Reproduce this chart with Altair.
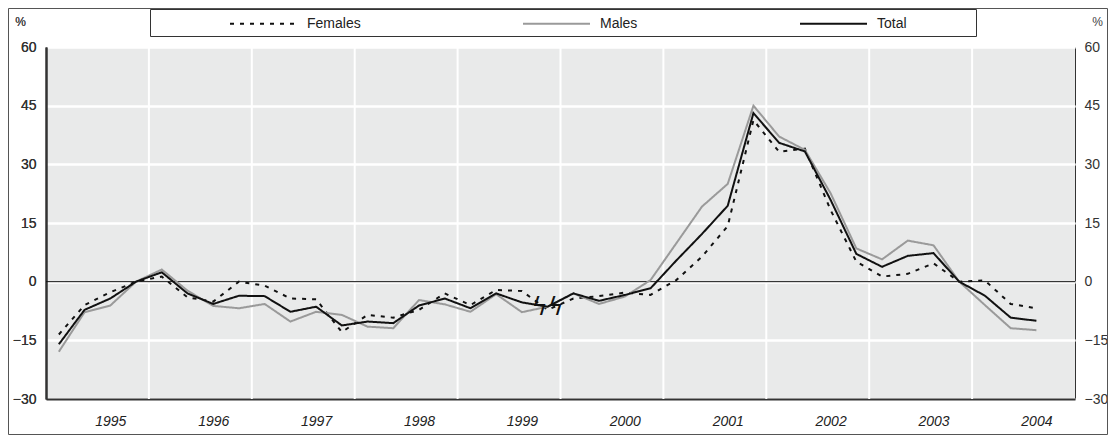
import altair as alt
import pandas as pd

# ---- data (quarterly, % change) ----
quarters = [f"{y}Q{q}" for y in range(1995, 2005) for q in range(1, 5)][:39]
total = [-16.0, -7.2, -4.3, 0.0, 2.4, -3.0, -5.7, -3.6, -3.7, -7.7, -6.4, -11.2,
         -10.2, -10.6, -6.1, -4.3, -6.8, -3.0, -5.3, -6.4, -3.0, -4.9, -3.4, -1.7,
         5.4, 12.2, 19.4, 43.1, 35.5, 33.3, 20.9, 7.1, 3.8, 6.6, 7.3, 0.0,
         -3.6, -9.2, -10.0]
males = [-17.9, -7.8, -6.1, 0.0, 3.1, -2.3, -6.2, -6.8, -5.7, -10.2, -7.7, -8.5,
         -11.5, -11.9, -4.7, -5.8, -7.7, -3.2, -7.8, -6.4, -3.0, -5.7, -3.8, 0.4,
         9.8, 19.2, 25.0, 45.0, 37.1, 33.7, 22.6, 8.5, 5.7, 10.5, 9.3, 0.0,
         -6.0, -11.9, -12.4]
females = [-13.5, -6.0, -2.7, 0.0, 1.3, -4.0, -5.1, 0.0, -1.0, -4.3, -4.5, -12.9,
           -8.5, -9.2, -7.2, -3.0, -6.0, -2.1, -2.4, -7.2, -4.3, -3.7, -2.8, -3.4,
           0.4, 6.4, 14.2, 41.3, 33.2, 34.0, 18.3, 5.1, 1.3, 2.0, 4.7, 0.0,
           0.3, -5.7, -6.8]
series_names = ["Females", "Males", "Total"]
years = list(range(1995, 2005))
year_bounds = list(range(1996, 2005))
y_ticks = [-30, -15, 0, 15, 30, 45, 60]
break_quarter = ["1999Q4"]
break_value = [-6.8]


def qpos(label):
    y, q = label.split("Q")
    return int(y) + (int(q) - 0.5) / 4


rows = []
for name, vals in zip(series_names, [females, males, total]):
    for lab, v in zip(quarters, vals):
        rows.append({"series": name, "t": qpos(lab), "value": v})
df = pd.DataFrame(rows)

label_pos = [y + 0.625 for y in years]

FONT = "Liberation Sans"
W, H = 1029, 352

xscale = alt.Scale(domain=[1995, 2005], nice=False, zero=False)
yscale = alt.Scale(domain=[-30, 60], nice=False, zero=False)

x_axis = alt.Axis(values=label_pos, labelExpr="floor(datum.value)", title=None,
                  grid=False, ticks=False, labelPadding=15, labelFontSize=14,
                  labelFontStyle="italic", labelFontWeight="normal",
                  labelColor="#222", labelFont=FONT,
                  domain=True, domainColor="#333", domainWidth=2)

left_axis = alt.Axis(values=y_ticks, title="%", titleAngle=0, titleX=-26, titleY=-26,
                     titleAlign="center", titleBaseline="middle", titleFontSize=12,
                     titleFontWeight="normal", titleFont=FONT, titleColor="#444",
                     grid=True, gridColor="white", gridWidth=2, ticks=False,
                     labelPadding=10, labelFontSize=14, labelFontWeight="normal",
                     labelColor="#333", labelFont=FONT,
                     domain=True, domainColor="#333", domainWidth=2)

right_axis = alt.Axis(values=y_ticks, orient="right", title="%", titleAngle=0,
                      titleX=22, titleY=-26, titleAlign="center", titleBaseline="middle",
                      titleFontSize=12, titleFontWeight="normal", titleFont=FONT,
                      titleColor="#444", grid=False, ticks=False, labelPadding=9,
                      labelFontSize=14, labelFontWeight="normal", labelColor="#333",
                      labelFont=FONT, domain=False)

legend = alt.Legend(title=None, orient="none", legendX=183, legendY=-58,
                    direction="horizontal", columns=3, symbolType="stroke",
                    symbolSize=4489, symbolStrokeWidth=2, labelFontSize=14,
                    labelFont=FONT, labelColor="#222", labelOffset=9,
                    columnPadding=158, padding=0)

# vertical year-boundary gridlines
vgrid = alt.Chart(pd.DataFrame({"b": year_bounds})).mark_rule(
    color="white", strokeWidth=2).encode(x=alt.X("b:Q", scale=xscale, axis=x_axis))

# zero line, carrying the right-hand axis
zero = alt.Chart(pd.DataFrame({"v": [0]})).mark_rule(
    color="#111", strokeWidth=1).encode(y=alt.Y("v:Q", scale=yscale, axis=right_axis))

lines = alt.Chart(df).mark_line(strokeWidth=2).encode(
    x=alt.X("t:Q", scale=xscale, axis=x_axis),
    y=alt.Y("value:Q", scale=yscale, axis=left_axis),
    color=alt.Color("series:N", scale=alt.Scale(domain=series_names,
                    range=["#111111", "#9a9a9a", "#111111"]), legend=legend),
    strokeDash=alt.StrokeDash("series:N", scale=alt.Scale(domain=series_names,
                              range=[[4, 6], [1, 0], [1, 0]]), legend=legend),
)

# series-break marks
brk = alt.Chart(pd.DataFrame({"t": [qpos(q) for q in break_quarter],
                              "value": break_value})).mark_text(
    text="ϟϟ", font="DejaVu Sans", fontSize=24, color="#111"
).encode(x=alt.X("t:Q", scale=xscale, axis=x_axis),
         y=alt.Y("value:Q", scale=yscale, axis=left_axis))

one = pd.DataFrame({"a": [0]})
legend_box = alt.Chart(one).mark_rect(fill=None, stroke="#333", strokeWidth=1).encode(
    x=alt.value(104.5), x2=alt.value(930.5), y=alt.value(-37.5), y2=alt.value(-10.5))
frame = alt.Chart(one).mark_rect(fill=None, stroke="#555", strokeWidth=1).encode(
    x=alt.value(-37.5), x2=alt.value(W + 32.5), y=alt.value(-38.5), y2=alt.value(H + 35.5))

chart = alt.layer(vgrid, zero, lines, brk, legend_box, frame).resolve_scale(
    y="shared", x="shared").resolve_axis(y="independent").properties(
    width=W, height=H,
    autosize=alt.AutoSizeParams(type="none"),
    padding={"left": 38, "top": 39, "right": 33, "bottom": 36},
    background="white",
).configure_view(fill="#e9eaea", stroke="#333", strokeWidth=1)

chart.save("out.html", embed_options={"renderer": "svg", "actions": False})
